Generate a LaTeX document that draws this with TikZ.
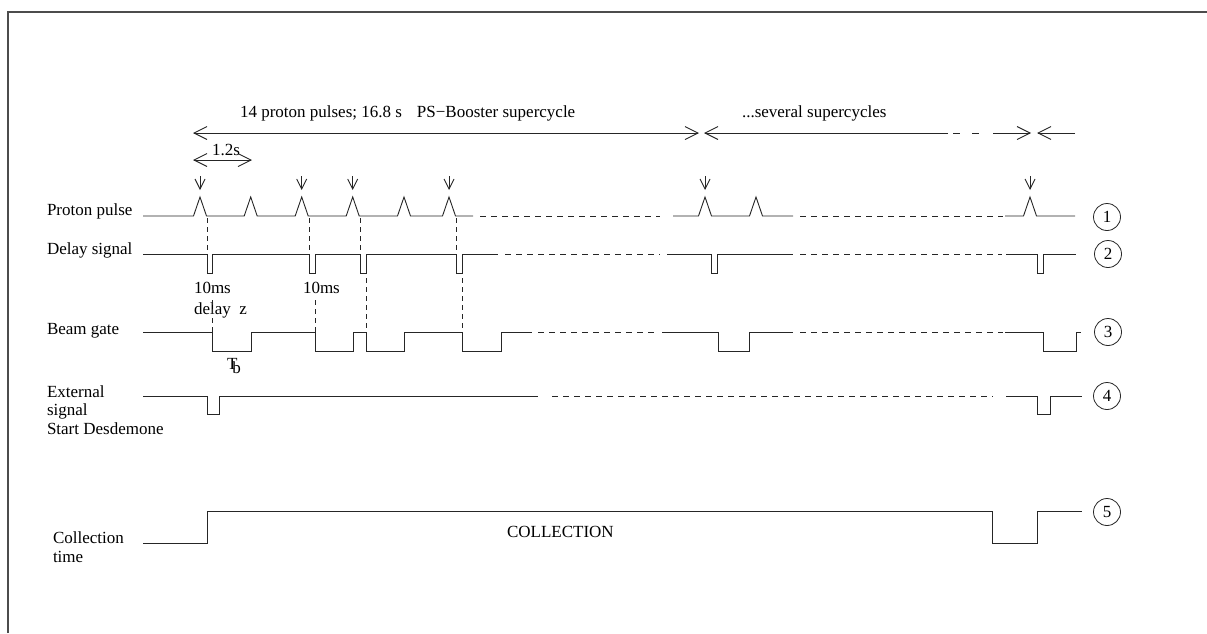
\documentclass[tikz,border=0pt]{standalone}
\usepackage{fontspec}
\setmainfont{Liberation Serif}
\usetikzlibrary{arrows.meta}
\begin{document}
\begin{tikzpicture}[x=1pt,y=-1pt,
  every node/.style={font=\fontsize{17}{18.5}\selectfont, inner sep=0pt, outer sep=0pt},
  sig/.style={line width=0.9pt, draw=black!85, line join=miter},
  dsig/.style={sig, dash pattern=on 6pt off 5pt},
  vdash/.style={line width=0.8pt, draw=black!85, dash pattern=on 5pt off 4pt},
  bigbarb/.style={line width=0.9pt, draw=black!85, -{Straight Barb[length=13pt,width=13pt]}},
  bothbarb/.style={line width=0.9pt, draw=black!85, {Straight Barb[length=13pt,width=13pt]}-{Straight Barb[length=13pt,width=13pt]}},
  downarr/.style={line width=0.9pt, draw=black!85, -{Straight Barb[length=10pt,width=10pt]}},
  num/.style={circle, draw=black!85, line width=0.8pt, minimum size=27pt, inner sep=0pt},
  lab/.style={anchor=base west}]
\useasboundingbox (0,0) rectangle (1207,633);
% frame
\draw[line width=1.5pt, black!70] (8,633) -- (8,12) -- (1207,12);

% titles
\node[lab] (title1) at (240,117) {14 proton pulses; 16.8 s\hspace{15pt}PS−Booster supercycle};
\node[lab] (title2) at (742,117) {...several supercycles};

% top arrows
\coordinate (a1l) at (193,133); \coordinate (a1r) at (699,133);
\draw[bothbarb] (a1l) -- (a1r);
\coordinate (a2l) at (704,133); \coordinate (a2m) at (948,133);
\draw[bigbarb] (a2m) -- (a2l);
\draw[sig] (953,133) -- (960,133);
\draw[sig] (972,133) -- (979,133);
\coordinate (a2n) at (993,133); \coordinate (a2r) at (1031,133);
\draw[bigbarb] (a2n) -- (a2r);
\coordinate (a3r) at (1075,133); \coordinate (a3l) at (1037,133);
\draw[bigbarb] (a3r) -- (a3l);

% 1.2 s
\coordinate (b1l) at (193,160); \coordinate (b1r) at (252,160);
\draw[bothbarb] (b1l) -- (b1r);
\node[lab] (t12) at (212,155) {1.2s};

% down arrows
\foreach \x in {200,301.7,352.7,449,705,1030}{
  \draw[downarr] (\x,176) -- (\x,190);
}

% labels
\node[lab] (lp) at (47,215) {Proton pulse};
\node[lab] (ld) at (47,254) {Delay signal};
\node[lab] (lb) at (47,334) {Beam gate};
\node[lab] (le1) at (47,397) {External};
\node[lab] (le2) at (47,415.5) {signal};
\node[lab] (le3) at (47,434) {Start Desdemone};
\node[lab] (lc1) at (53,543) {Collection};
\node[lab] (lc2) at (53,562) {time};
\node[lab] (ms1) at (194,293) {10ms};
\node[lab] (dz) at (194,314) {delay\ \ z};
\node[lab] (ms2) at (303,293) {10ms};
\node[lab] (tb) at (227,369) {T\kern-5pt\raisebox{-4pt}{b}};
\node[lab] (coll) at (507,537) {COLLECTION};

% row 1: proton pulses
\draw[sig] (143,216)
  -- (193.5,216) -- (200,197) -- (206.5,216)
  -- (244.2,216) -- (250.7,197) -- (257.2,216)
  -- (295.2,216) -- (301.7,197) -- (308.2,216)
  -- (346.2,216) -- (352.7,197) -- (359.2,216)
  -- (397.5,216) -- (404,197) -- (410.5,216)
  -- (442.5,216) -- (449,197) -- (455.5,216)
  -- (473,216);
\draw[dsig] (480,216) -- (660,216);
\draw[sig] (673,216) -- (698.5,216) -- (705,197) -- (711.5,216)
  -- (749.5,216) -- (756,197) -- (762.5,216) -- (793,216);
\draw[dsig] (800,216) -- (1003,216);
\draw[sig] (1005,216) -- (1023.5,216) -- (1030,197) -- (1036.5,216) -- (1075,216);
\node[num] (c1) at (1107,217) {1};

% row 2: delay signal
\draw[sig] (143,254) -- (207,254) -- (207,273) -- (212,273) -- (212,254)
  -- (309,254) -- (309,273) -- (315,273) -- (315,254)
  -- (360,254) -- (360,273) -- (366,273) -- (366,254)
  -- (456,254) -- (456,273) -- (462,273) -- (462,254) -- (498,254);
\draw[dsig] (505,254) -- (660,254);
\draw[sig] (667,254) -- (711,254) -- (711,273) -- (717,273) -- (717,254) -- (793,254);
\draw[dsig] (800,254) -- (1002,254);
\draw[sig] (1006,254) -- (1037,254) -- (1037,273) -- (1043,273) -- (1043,254) -- (1076,254);
\node[num] (c2) at (1108,254) {2};

% row 3: beam gate
\draw[sig] (143,332) -- (212,332) -- (212,351) -- (251,351) -- (251,332)
  -- (315,332) -- (315,351) -- (353,351) -- (353,332)
  -- (366,332) -- (366,351) -- (404,351) -- (404,332)
  -- (462,332) -- (462,351) -- (501,351) -- (501,332) -- (532,332);
\draw[dsig] (538,332) -- (657,332);
\draw[sig] (662,332) -- (718,332) -- (718,351) -- (749,351) -- (749,332) -- (793,332);
\draw[dsig] (800,332) -- (1003,332);
\draw[sig] (1005,332) -- (1043,332) -- (1043,351) -- (1076,351) -- (1076,332) -- (1081,332);
\node[num] (c3) at (1108,332) {3};

% row 4: external signal
\draw[sig] (143,396) -- (207,396) -- (207,414) -- (219,414) -- (219,396) -- (538,396);
\draw[dsig] (552,396) -- (993,396);
\draw[sig] (1006,396) -- (1037,396) -- (1037,414) -- (1050,414) -- (1050,396) -- (1082,396);
\node[num] (c4) at (1107,396) {4};

% row 5: collection time
\draw[sig] (143,543) -- (207,543) -- (207,511) -- (992,511) -- (992,543)
  -- (1037,543) -- (1037,511) -- (1082,511);
\node[num] (c5) at (1107,512) {5};

% vertical dashed links
\foreach \x in {207,309,360,456}{
  \draw[vdash] (\x,218) -- (\x,254);
}
\draw[vdash] (212,300) -- (212,332);
\draw[vdash] (315,300) -- (315,332);
\draw[vdash] (366,278) -- (366,332);
\draw[vdash] (462,278) -- (462,332);
\end{tikzpicture}
\end{document}
